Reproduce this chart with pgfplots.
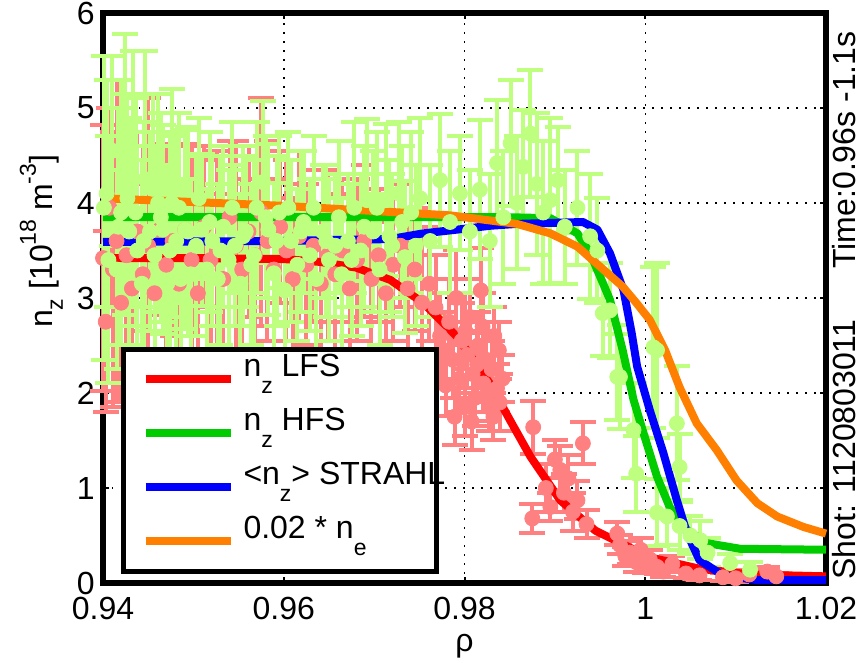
\documentclass[border=0pt]{standalone}
\usepackage{pgfplots}
\usepackage{pgfplotstable}
\pgfplotsset{compat=1.18}
\usepackage{fontspec}
\setmainfont{Liberation Sans}
\definecolor{lfs}{RGB}{255,128,128}
\definecolor{hfs}{RGB}{191,255,128}
\definecolor{cgreen}{RGB}{0,204,0}
\definecolor{corange}{RGB}{255,128,0}
\newcommand{\lsub}[1]{\raisebox{-8.5pt}{\fontsize{11.5}{12}\selectfont #1}}
\newcommand{\ysub}[1]{\raisebox{-5pt}{\fontsize{11.5}{12}\selectfont #1}}
\newcommand{\ysup}[1]{\raisebox{8.5pt}{\fontsize{11.5}{12}\selectfont #1}}

\pgfplotstableread{
x y e
0.9400 3.42 1.40
0.9403 2.75 0.95
0.9407 3.95 1.05
0.9411 3.30 1.45
0.9415 3.60 1.70
0.9420 2.95 1.05
0.9426 3.45 1.25
0.9432 3.10 1.10
0.9438 3.70 1.05
0.9444 3.25 1.35
0.9450 3.55 1.55
0.9457 3.05 1.00
0.9463 3.72 0.90
0.9470 3.35 1.25
0.9477 3.60 1.00
0.9484 3.15 1.10
0.9491 3.72 0.90
0.9498 3.40 1.20
0.9505 3.05 1.00
0.9512 3.75 0.85
0.9519 3.40 1.05
0.9526 3.50 1.05
0.9533 3.20 0.90
0.9540 3.85 0.80
0.9547 3.55 1.10
0.9554 3.30 0.95
0.9561 3.70 0.90
0.9568 3.45 1.05
0.9575 3.90 1.20
0.9582 3.60 1.05
0.9589 3.30 0.95
0.9596 3.75 0.80
0.9603 3.50 0.95
0.9610 3.20 0.85
0.9617 3.65 0.90
0.9625 3.35 0.85
0.9633 3.55 0.80
0.9641 3.15 0.75
0.9649 3.45 0.90
0.9657 3.25 0.85
0.9665 3.50 0.75
0.9673 3.10 0.80
0.9681 3.40 0.85
0.9689 3.60 0.80
0.9697 3.20 0.85
0.9705 3.45 0.70
0.9713 3.05 0.75
0.9721 3.35 0.80
0.9729 3.55 0.65
0.9737 3.10 0.70
0.9745 3.30 0.65
0.9753 2.95 0.70
0.9761 3.15 0.60
0.9768 2.90 0.55
0.9773 2.60 0.45
0.9777 2.45 0.40
0.9779 2.08 0.32
0.9783 2.75 0.45
0.9787 2.35 0.40
0.9789 1.75 0.30
0.9791 3.00 0.50
0.9794 2.15 0.35
0.9797 2.55 0.40
0.9800 1.85 0.30
0.9801 2.65 0.40
0.9803 2.40 0.35
0.9806 2.80 0.40
0.9808 1.70 0.30
0.9809 2.20 0.30
0.9812 1.95 0.30
0.9814 2.30 0.35
0.9815 2.50 0.35
0.9818 3.08 0.45
0.9820 2.70 0.35
0.9821 2.10 0.30
0.9824 2.35 0.30
0.9826 2.00 0.30
0.9827 1.85 0.25
0.9830 2.25 0.30
0.9832 1.75 0.25
0.9833 2.60 0.30
0.9836 2.05 0.25
0.9838 2.45 0.30
0.9839 1.90 0.30
0.9842 2.15 0.25
0.9875 0.68 0.15
0.9876 1.64 0.28
0.9890 1.00 0.25
0.9895 0.80 0.15
0.9900 1.30 0.20
0.9906 1.19 0.25
0.9910 0.95 0.20
0.9915 1.10 0.25
0.9920 0.75 0.20
0.9925 0.87 0.20
0.9931 1.47 0.22
0.9935 0.62 0.15
0.9969 0.52 0.12
0.9972 0.40 0.10
0.9978 0.28 0.10
0.9983 0.32 0.12
0.9990 0.22 0.10
0.9995 0.35 0.12
1.0000 0.18 0.08
1.0005 0.25 0.10
1.0013 0.17 0.08
1.0020 0.12 0.06
1.0030 0.20 0.08
1.0045 0.10 0.05
1.0060 0.08 0.05
1.0086 0.06 0.04
1.0100 0.05 0.04
1.0115 0.09 0.05
1.0135 0.12 0.05
1.0145 0.07 0.04
}\lfsdata

\pgfplotstableread{
x y e
0.9401 3.95 1.60
0.9404 4.10 1.20
0.9406 3.40 1.30
0.9410 4.55 1.00
0.9415 3.30 1.05
0.9417 3.75 1.25
0.9420 3.90 1.40
0.9424 4.30 1.48
0.9427 4.05 1.10
0.9429 3.70 1.20
0.9433 4.25 1.35
0.9436 3.90 1.20
0.9438 3.50 1.10
0.9443 3.15 1.30
0.9445 3.60 1.25
0.9447 4.25 1.35
0.9452 3.70 1.05
0.9455 4.15 1.00
0.9457 3.45 1.15
0.9461 4.00 1.15
0.9464 3.85 1.10
0.9466 3.72 1.10
0.9471 3.15 1.25
0.9474 3.50 1.20
0.9476 4.00 1.20
0.9481 3.60 1.15
0.9484 3.95 1.00
0.9486 3.20 1.05
0.9491 3.72 1.05
0.9494 3.70 1.10
0.9497 3.25 1.00
0.9503 3.55 0.95
0.9506 4.05 0.85
0.9509 3.72 0.80
0.9515 3.30 0.85
0.9518 3.80 0.95
0.9521 3.60 0.90
0.9527 3.20 1.00
0.9530 3.50 1.00
0.9533 3.75 0.85
0.9539 3.40 0.95
0.9543 3.95 0.90
0.9546 3.55 0.85
0.9552 3.15 0.95
0.9555 3.65 0.95
0.9558 3.70 0.80
0.9564 3.35 0.85
0.9567 3.45 1.00
0.9570 3.95 0.90
0.9577 4.22 0.85
0.9580 3.85 0.85
0.9583 3.72 0.90
0.9589 3.26 0.95
0.9592 3.60 0.90
0.9595 3.90 0.80
0.9601 3.08 0.85
0.9605 3.95 0.80
0.9608 3.60 0.85
0.9615 3.35 0.80
0.9619 3.70 0.85
0.9622 3.80 0.75
0.9629 3.45 0.80
0.9633 3.95 0.75
0.9636 3.20 0.75
0.9643 3.70 0.70
0.9647 3.60 0.80
0.9650 3.40 0.85
0.9657 3.55 0.75
0.9661 3.85 0.80
0.9664 3.25 0.80
0.9671 3.60 0.70
0.9675 3.40 0.80
0.9678 3.95 0.90
0.9685 3.50 0.80
0.9689 3.75 0.85
0.9692 4.03 0.85
0.9699 3.70 0.85
0.9703 3.95 0.80
0.9706 3.30 0.80
0.9713 4.03 0.80
0.9717 3.65 0.80
0.9720 3.55 0.75
0.9727 4.10 0.75
0.9731 3.80 0.80
0.9734 3.43 0.80
0.9741 3.90 0.85
0.9746 3.55 0.85
0.9751 4.05 0.85
0.9762 3.60 0.80
0.9773 4.24 0.70
0.9784 3.80 0.75
0.9795 4.10 0.60
0.9806 3.70 0.65
0.9817 4.14 0.73
0.9828 3.60 0.70
0.9836 4.42 0.66
0.9843 3.85 0.70
0.9851 4.63 0.66
0.9858 4.00 0.70
0.9865 4.38 0.60
0.9873 4.73 0.67
0.9880 4.20 0.75
0.9887 3.90 0.75
0.9895 4.03 0.87
0.9903 4.24 0.56
0.9911 3.75 0.60
0.9925 3.95 0.60
0.9939 3.65 0.66
0.9947 3.50 0.55
0.9953 2.84 0.45
0.9961 2.87 0.50
0.9969 2.17 0.45
0.9972 2.17 0.55
0.9987 1.61 0.50
0.9990 1.15 0.40
1.0009 2.48 0.85
1.0013 2.45 0.92
1.0013 0.74 0.35
1.0024 0.70 0.30
1.0035 1.68 0.60
1.0038 1.22 0.35
1.0038 0.60 0.25
1.0050 0.50 0.20
1.0061 0.45 0.20
1.0069 0.32 0.15
1.0094 0.21 0.10
1.0116 0.14 0.08
}\hfsdata

\begin{document}
\begin{tikzpicture}
\begin{axis}[
  scale only axis, width=361.5pt, height=285pt,
  xmin=0.94, xmax=1.02, ymin=0, ymax=6,
  xtick={0.94,0.96,0.98,1,1.02}, xticklabels={0.94,0.96,0.98,1,1.02},
  ytick={0,1,2,3,4,5,6},
  tick pos=both, tick align=inside, major tick length=3pt,
  every tick/.style={black, line width=1pt},
  axis line style={line width=2.75pt, black},
  grid=major,
  major grid style={black, line width=0.75pt, dash pattern=on 0.75pt off 3.75pt},
  tick label style={font=\fontsize{16}{19}\selectfont},
  /pgf/number format/assume math mode=true,
  xticklabel style={inner sep=0pt, yshift=-6.8pt},
  yticklabel style={inner sep=0pt, xshift=-4pt},
  clip=false,
  legend cell align=left,
  legend style={at={(rel axis cs:0.0249,0.0158)}, anchor=south west,
    draw=black, line width=2.5pt, fill=white,
    inner xsep=9pt, inner ysep=1.5pt, column sep=0pt, row sep=0pt,
    font=\fontsize{16}{19}\selectfont,
    nodes={inner xsep=4.5pt, inner ysep=0pt, text height=12pt, text depth=15pt}},
  legend image code/.code={\draw[#1] (0pt,0pt) -- (42.5pt,0pt);},
]
\addplot[forget plot, only marks, mark=*, mark size=3.75pt, color=lfs, mark options={fill=lfs, draw=lfs},
  error bars/.cd, y dir=both, y explicit,
  error bar style={line width=2pt, lfs},
  error mark options={lfs, line width=2pt, mark size=6.5pt, rotate=90}]
  table[x=x, y=y, y error=e] {\lfsdata};
\addplot[forget plot, only marks, mark=*, mark size=3.75pt, color=hfs, mark options={fill=hfs, draw=hfs},
  error bars/.cd, y dir=both, y explicit,
  error bar style={line width=2pt, hfs},
  error mark options={hfs, line width=2pt, mark size=6.5pt, rotate=90}]
  table[x=x, y=y, y error=e] {\hfsdata};

\addplot[red, line width=4pt, line join=round] coordinates {
(0.9400,3.42) (0.9500,3.42) (0.9600,3.41) (0.9640,3.38) (0.9680,3.32)
(0.9718,3.19) (0.9754,2.95) (0.9792,2.59) (0.9828,2.10) (0.9850,1.72)
(0.9873,1.33) (0.9906,0.87) (0.9945,0.55) (1.0005,0.27) (1.0060,0.15)
(1.0116,0.09) (1.0200,0.07)};
\addlegendentry{\makebox[83pt][l]{n\lsub{z} LFS}}
\addplot[cgreen, line width=4pt, line join=round] coordinates {
(0.9400,3.85) (0.9850,3.85) (0.9895,3.84) (0.9925,3.68) (0.9939,3.47)
(0.9953,3.16) (0.9961,2.98) (0.9975,2.45) (0.9987,1.93) (0.9998,1.58)
(1.0013,1.12) (1.0027,0.80) (1.0046,0.56) (1.0068,0.42) (1.0105,0.36)
(1.0200,0.35)};
\addlegendentry{\makebox[83pt][l]{n\lsub{z} HFS}}
\addplot[blue, line width=4pt, line join=round] coordinates {
(0.9400,3.59) (0.9600,3.60) (0.9650,3.61) (0.9718,3.62) (0.9754,3.68)
(0.9792,3.72) (0.9828,3.76) (0.9858,3.78) (0.9931,3.80) (0.9947,3.72)
(0.9961,3.47) (0.9976,3.08) (0.9985,2.63) (0.9991,2.28) (1.0005,1.82)
(1.0020,1.37) (1.0035,0.87) (1.0046,0.53) (1.0060,0.24) (1.0086,0.08)
(1.0124,0.03) (1.0200,0.03)};
\addlegendentry{\makebox[83pt][l]{<n\lsub{z}> STRAHL}}
\addplot[corange, line width=4pt, line join=round] coordinates {
(0.9400,4.05) (0.9600,3.97) (0.9784,3.87) (0.9858,3.78) (0.9895,3.68)
(0.9925,3.54) (0.9950,3.33) (0.9975,3.12) (0.9990,2.95) (1.0005,2.77)
(1.0022,2.45) (1.0038,2.06) (1.0057,1.68) (1.0079,1.40) (1.0101,1.08)
(1.0124,0.84) (1.0146,0.70) (1.0175,0.59) (1.0200,0.52)};
\addlegendentry{\makebox[83pt][l]{0.02 * n\lsub{e}}}

\node[rotate=90, anchor=base west, font=\fontsize{16}{19}\selectfont, inner sep=0pt]
  at ([xshift=-25pt]rel axis cs:0,0.447) {n\ysub{z} [10\ysup{18} m\ysup{-3}]};
\node[anchor=base, font=\fontsize{16}{19}\selectfont, inner sep=0pt]
  at ([yshift=-34.5pt]rel axis cs:0.5,0) {ρ};
\node[rotate=90, anchor=base west, font=\fontsize{16}{19}\selectfont, inner sep=0pt]
  at ([xshift=14.5pt,yshift=1.5pt]rel axis cs:1,0) {Shot: 1120803011};
\node[rotate=90, anchor=base west, font=\fontsize{16}{19}\selectfont, inner sep=0pt]
  at ([xshift=14.5pt,yshift=2pt]rel axis cs:1,0.544) {Time:0.96s -1.1s};
\end{axis}
\pgfresetboundingbox
\path ([xshift=-51.5pt,yshift=-40pt]current axis.south west) rectangle ([xshift=18pt,yshift=6.5pt]current axis.north east);
\end{tikzpicture}
\end{document}
